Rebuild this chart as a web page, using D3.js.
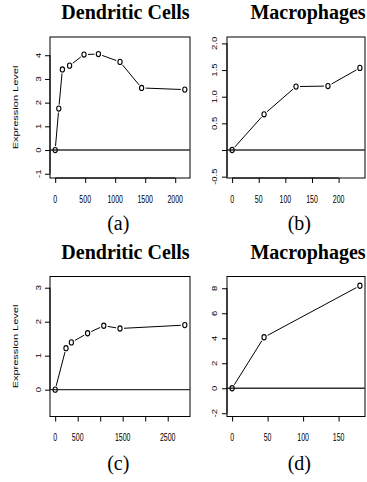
<!DOCTYPE html>
<html><head><meta charset="utf-8">
<script src="https://cdn.jsdelivr.net/npm/d3@7"></script>
<style>body{margin:0;background:#fff}svg{display:block}</style>
</head><body>
<script>
// ---- data ----
const aTime=[0,60,120,240,480,720,1080,1440,2160];
const aExpr=[0,1.75,3.40,3.56,4.03,4.05,3.72,2.62,2.55];
const bTime=[0,60,120,180,240];
const bExpr=[0,0.67,1.19,1.20,1.54];
const cTime=[0,240,360,720,1080,1440,2880];
const cExpr=[0,1.22,1.39,1.66,1.88,1.80,1.90];
const dTime=[0,45,180];
const dExpr=[0,4.08,8.2];

const aXTicks=[0,500,1000,1500,2000];
const aXLabels=["0","500","1000","1500","2000"];
const bXTicks=[0,50,100,150,200];
const bXLabels=["0","50","100","150","200"];
const cXTicks=[0,500,1000,1500,2000,2500];
const cXLabels=["0","500","","1500","","2500"];
const dXTicks=[0,50,100,150];
const dXLabels=["0","50","100","150"];

const aYTicks=[-1,0,1,2,3,4];
const aYLabels=["-1","0","1","2","3","4"];
const bYTicks=[-0.5,0,0.5,1,1.5,2];
const bYLabels=["-0.5","","0.5","1.0","1.5","2.0"];
const cYTicks=[0,1,2,3];
const cYLabels=["0","1","2","3"];
const dYTicks=[-2,0,2,4,6,8];
const dYLabels=["-2","0","2","4","6","8"];

const aYLim=[-1.18,4.77];
const bYLim=[-0.525,2.12];
const cYLim=[-0.79,3.33];
const dYLim=[-2.26,8.94];

const titles=["Dendritic Cells","Macrophages","Dendritic Cells","Macrophages"];
const captions=["(a)","(b)","(c)","(d)"];
const yLabel="Expression Level";

// ---- drawing ----
const W=367,H=482;
const svg=d3.select("body").append("svg").attr("width",W).attr("height",H);
const SX=0.7; // horizontal squeeze of the plot text
const tickFont=9.5;

const panels=[
  {t:aTime,v:aExpr,xt:aXTicks,xl:aXLabels,yt:aYTicks,yl:aYLabels,ylim:aYLim,
   box:[50,190,37,178],title:titles[0],cap:captions[0],tx:125.5,ty:19,cx:118.3,cy:229.5,ylab:true,ylx:38.3},
  {t:bTime,v:bExpr,xt:bXTicks,xl:bXLabels,yt:bYTicks,yl:bYLabels,ylim:bYLim,
   box:[227,365,37,178],title:titles[1],cap:captions[1],tx:308,ty:19,cx:299.3,cy:229.5,ylab:false,ylx:215},
  {t:cTime,v:cExpr,xt:cXTicks,xl:cXLabels,yt:cYTicks,yl:cYLabels,ylim:cYLim,
   box:[50,190,276.5,416.5],title:titles[2],cap:captions[2],tx:125.5,ty:259,cx:118.3,cy:470,ylab:true,ylx:38.3},
  {t:dTime,v:dExpr,xt:dXTicks,xl:dXLabels,yt:dYTicks,yl:dYLabels,ylim:dYLim,
   box:[227,365,276.5,416.5],title:titles[3],cap:captions[3],tx:308,ty:259,cx:299.3,cy:470,ylab:false,ylx:215}
];

panels.forEach(p=>{
  const [x0,x1,y0,y1]=p.box;
  const tmax=d3.max(p.t), tmin=d3.min(p.t), pad=(tmax-tmin)*0.04;
  const x=d3.scaleLinear().domain([tmin-pad,tmax+pad]).range([x0,x1]);
  const y=d3.scaleLinear().domain(p.ylim).range([y1,y0]);
  const g=svg.append("g");

  // box
  g.append("rect").attr("x",x0).attr("y",y0).attr("width",x1-x0).attr("height",y1-y0)
    .attr("fill","none").attr("stroke","#000").attr("stroke-width",1);

  // zero line
  g.append("line").attr("x1",x0).attr("x2",x1).attr("y1",y(0)).attr("y2",y(0))
    .attr("stroke","#333").attr("stroke-width",1.4);

  // x axis
  const xa=d3.axisBottom(x).tickValues(p.xt).tickSize(5).tickFormat("");
  const gx=g.append("g").attr("transform",`translate(0,${y1})`).call(xa);
  gx.select(".domain").attr("d",`M${x(p.xt[0])},0H${x(p.xt[p.xt.length-1])}`).attr("stroke","#000");
  gx.selectAll(".tick line").attr("stroke","#000");
  p.xt.forEach((tv,i)=>{
    g.append("text").attr("transform",`translate(${x(tv)},${y1+24.5}) scale(${SX},1)`)
      .attr("text-anchor","middle").attr("font-family","Liberation Sans, Arial, sans-serif")
      .attr("font-size",tickFont+0.5).attr("fill","#000").text(p.xl[i]);
  });

  // y axis
  const ya=d3.axisLeft(y).tickValues(p.yt).tickSize(5).tickFormat("");
  const gy=g.append("g").attr("transform",`translate(${x0},0)`).call(ya);
  gy.select(".domain").attr("d",`M0,${y(p.yt[0])}V${y(p.yt[p.yt.length-1])}`).attr("stroke","#000");
  gy.selectAll(".tick line").attr("stroke","#000");
  p.yt.forEach((tv,i)=>{
    g.append("text").attr("transform",`translate(${p.ylx+0.36*tickFont*SX},${y(tv)}) scale(${SX},1) rotate(-90)`)
      .attr("text-anchor","middle").attr("font-family","Liberation Sans, Arial, sans-serif")
      .attr("font-size",tickFont).attr("fill","#000").text(p.yl[i]);
  });

  if(p.ylab){
    g.append("text").attr("transform",`translate(${15+0.36*11*SX},${(y0+y1)/2}) scale(${SX},1) rotate(-90)`)
      .attr("text-anchor","middle").attr("font-family","Liberation Sans, Arial, sans-serif")
      .attr("font-size",11).attr("fill","#000").text(yLabel);
  }

  // connecting segments with gaps (type "b")
  const pts=p.t.map((tv,i)=>[x(tv),y(p.v[i])]);
  const gap=4;
  for(let i=0;i<pts.length-1;i++){
    const [ax,ay]=pts[i],[bx,by]=pts[i+1];
    const dx=bx-ax,dy=by-ay,L=Math.hypot(dx,dy);
    if(L>2*gap){
      const ux=dx/L,uy=dy/L;
      g.append("line").attr("x1",ax+ux*gap).attr("y1",ay+uy*gap)
        .attr("x2",bx-ux*gap).attr("y2",by-uy*gap)
        .attr("stroke","#000").attr("stroke-width",1);
    }
  }
  g.selectAll("ellipse.pt").data(pts).enter().append("ellipse").attr("class","pt")
    .attr("cx",d=>d[0]).attr("cy",d=>d[1]).attr("rx",2.1).attr("ry",2.6)
    .attr("fill","none").attr("stroke","#000").attr("stroke-width",1.1);

  // title and caption
  svg.append("text").attr("x",p.tx).attr("y",p.ty).attr("text-anchor","middle")
    .attr("font-family","Liberation Serif, Times New Roman, serif").attr("font-weight","bold")
    .attr("font-size",20).attr("fill","#000").text(p.title);
  svg.append("text").attr("x",p.cx).attr("y",p.cy).attr("text-anchor","middle")
    .attr("font-family","Liberation Serif, Times New Roman, serif")
    .attr("font-size",20).attr("fill","#000").text(p.cap);
});
</script>
</body></html>
